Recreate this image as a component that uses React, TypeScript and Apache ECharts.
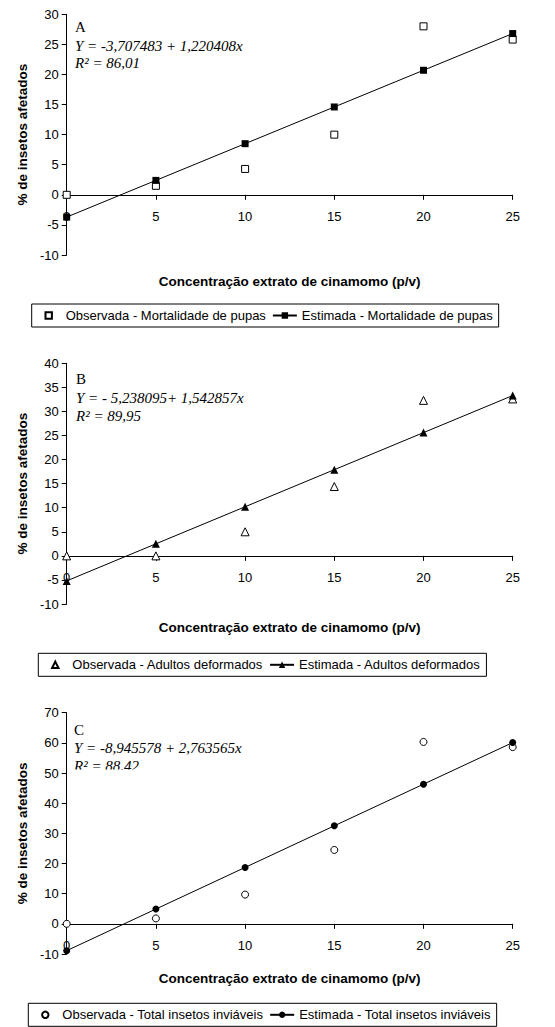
import React, { useEffect, useRef } from "react";
import * as echarts from "echarts";

const concentrations = [0, 5, 10, 15, 20, 25];

const obsPupas = [0, 1.5, 4.3, 10, 28, 25.8];
const estPupas = [-3.7, 2.4, 8.5, 14.6, 20.7, 26.8];

const obsAdultos = [0, 0, 5, 14.4, 32.3, 32.6];
const estAdultos = [-5.2, 2.5, 10.2, 17.9, 25.6, 33.3];

const obsTotal = [0, 1.8, 9.7, 24.5, 60.3, 58.6];
const estTotal = [-8.9, 4.9, 18.7, 32.5, 46.3, 60.1];

const xTicks = { min: 0, max: 25, interval: 5 };
const yTicksA = { min: -10, max: 30, interval: 5 };
const yTicksB = { min: -10, max: 40, interval: 5 };
const yTicksC = { min: -10, max: 70, interval: 10 };

const namesA = ["Observada - Mortalidade de pupas", "Estimada - Mortalidade de pupas"];
const namesB = ["Observada - Adultos deformados", "Estimada - Adultos deformados"];
const namesC = ["Observada - Total insetos inviáveis", "Estimada - Total insetos inviáveis"];

const annA = ["A", "Y = -3,707483 + 1,220408x", "R² = 86,01"];
const annB = ["B", "Y = - 5,238095+ 1,542857x", "R² = 89,95"];
const annC = ["C", "Y = -8,945578 + 2,763565x", "R² = 88,42"];

const xTitle = "Concentração extrato de cinamomo (p/v)";
const yTitle = "% de insetos afetados";

const SANS = "'Liberation Sans', Arial, sans-serif";
const SERIF = "'Liberation Serif', 'Times New Roman', serif";

function pairs(ys: number[]) {
  return concentrations.map((x, i) => [x, ys[i]]);
}

export default function App() {
  const ref = useRef<HTMLDivElement>(null);
  useEffect(() => {
    if (!ref.current) return;
    const chart = echarts.init(ref.current, undefined, { renderer: "svg" });

    const grids = [
      { top: 14.3, height: 240.7 },
      { top: 363.3, height: 240.7 },
      { top: 712.7, height: 241.3 },
    ].map((g) => ({ left: 66.7, width: 446, top: g.top, height: g.height }));

    const yRanges = [yTicksA, yTicksB, yTicksC];
    const nameGaps = [80, 65, 48];
    const xAxes = grids.map((g, i) => ({
      type: "value",
      gridIndex: i,
      min: xTicks.min,
      max: xTicks.max,
      interval: xTicks.interval,
      // place the x axis on y = 0
      offset: -(g.height * (0 - yRanges[i].min)) / (yRanges[i].max - yRanges[i].min),
      axisLine: { onZero: false, lineStyle: { color: "#000", width: 1 } },
      axisTick: { show: true, length: 5, lineStyle: { color: "#000" } },
      axisLabel: { color: "#000", fontSize: 13, fontFamily: SANS, margin: 15 },
      splitLine: { show: false },
      name: xTitle,
      nameLocation: "middle",
      nameGap: nameGaps[i],
      nameTextStyle: { color: "#000", fontSize: 13.5, fontWeight: "bold", fontFamily: SANS },
    }));

    const yAxes = yRanges.map((r, i) => ({
      type: "value",
      gridIndex: i,
      min: r.min,
      max: r.max,
      interval: r.interval,
      axisLine: { show: true, onZero: false, lineStyle: { color: "#000", width: 1 } },
      axisTick: { show: true, length: 5, lineStyle: { color: "#000" } },
      axisLabel: { color: "#000", fontSize: 13, fontFamily: SANS, margin: 8 },
      splitLine: { show: false },
      name: yTitle,
      nameLocation: "middle",
      nameGap: 36,
      nameTextStyle: { color: "#000", fontSize: 13.5, fontWeight: "bold", fontFamily: SANS },
    }));

    const panels = [
      { names: namesA, obs: obsPupas, est: estPupas, symbol: "rect", size: 7 },
      { names: namesB, obs: obsAdultos, est: estAdultos, symbol: "triangle", size: 8 },
      { names: namesC, obs: obsTotal, est: estTotal, symbol: "circle", size: 7 },
    ];

    const series: any[] = [];
    panels.forEach((p, i) => {
      series.push({
        type: "line",
        name: p.names[0],
        xAxisIndex: i,
        yAxisIndex: i,
        data: pairs(p.obs),
        symbol: p.symbol,
        symbolSize: p.size,
        showAllSymbol: true,
        lineStyle: { opacity: 0, width: 0 },
        itemStyle: { color: "#fff", borderColor: "#000", borderWidth: 1 },
        z: 2,
      });
      series.push({
        type: "line",
        name: p.names[1],
        xAxisIndex: i,
        yAxisIndex: i,
        data: pairs(p.est),
        symbol: p.symbol,
        symbolSize: p.size,
        showAllSymbol: true,
        lineStyle: { color: "#000", width: 1 },
        itemStyle: { color: "#000", borderColor: "#000", borderWidth: 0 },
        z: 3,
      });
    });

    const legendTops = [304, 653.3, 1003.3];
    const legendLefts = [31.7, 38.3, 28.3];
    const legends = panels.map((p, i) => ({
      data: p.names,
      top: legendTops[i],
      left: legendLefts[i],
      orient: "horizontal",
      itemWidth: 24,
      itemHeight: 8,
      itemGap: 6,
      padding: [5, 6, 5, 5],
      borderColor: "#000",
      borderWidth: 1,
      borderRadius: 0,
      textStyle: { color: "#000", fontSize: 13, fontFamily: SANS },
      selectedMode: false,
    }));

    const annTops = [
      [27.7, 46.7, 63.3],
      [379.3, 398.3, 416],
      [730, 748.3, 766.7],
    ];
    const annLefts = [75, 76, 74];
    const anns = [annA, annB, annC];
    const graphics: any[] = [];
    anns.forEach((a, i) => {
      a.forEach((t, j) => {
        graphics.push({
          type: "text",
          left: annLefts[i],
          top: annTops[i][j] - 8,
          z: 10,
          style: {
            text: t,
            fill: "#000",
            font: `${j === 0 ? "normal" : "italic"} 15px ${SERIF}`,
          },
        });
      });
    });
    graphics.push({
      type: "rect",
      shape: { x: 70, y: 769.5, width: 110, height: 8 },
      style: { fill: "#fff" },
      z: 11,
    });

    chart.setOption({
      animation: false,
      backgroundColor: "#fff",
      grid: grids,
      xAxis: xAxes,
      yAxis: yAxes,
      legend: legends,
      series,
      graphic: graphics,
    });
    return () => chart.dispose();
  }, []);
  return (
    <div
      ref={ref}
      style={{ position: "fixed", left: 0, top: 0, width: 555, height: 1027, background: "#fff" }}
    />
  );
}
